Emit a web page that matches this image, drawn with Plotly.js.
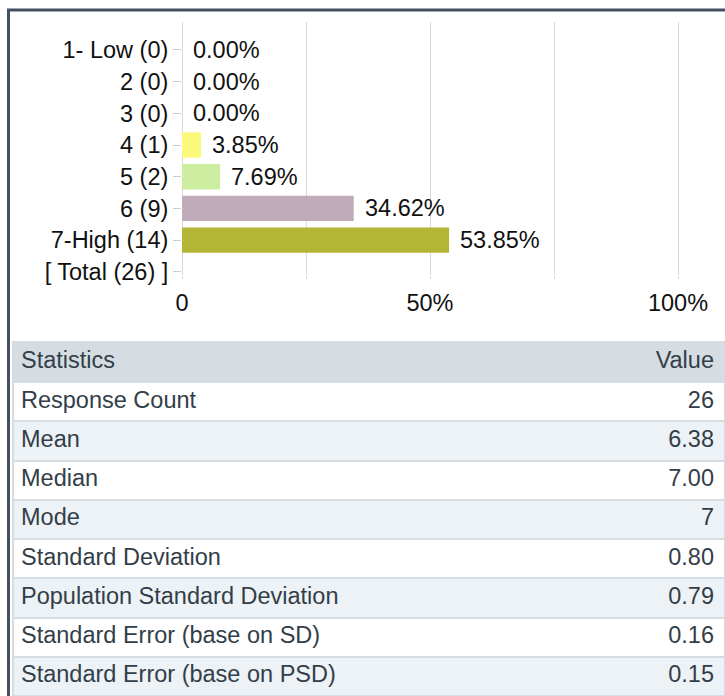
<!DOCTYPE html>
<html>
<head>
<meta charset="utf-8">
<script src="https://cdn.plot.ly/plotly-3.0.1.min.js"></script>
<style>
html,body{margin:0;padding:0;background:#fff;}
#chart{width:725px;height:696px;}
</style>
</head>
<body>
<div id="chart"></div>
<script>
// ---- data ----
var categories = ['1- Low (0)', '2 (0)', '3 (0)', '4 (1)', '5 (2)', '6 (9)', '7-High (14)', '[ Total (26) ]'];
var percents = [0.00, 0.00, 0.00, 3.85, 7.69, 34.62, 53.85, null];
var barColors = ['#fbf97a', '#fbf97a', '#fbf97a', '#fbf97a', '#cdeda1', '#c1aab9', '#b4b435', '#ffffff'];
var xTickVals = [0, 25, 50, 75, 100];
var xTickText = ['0', '', '50%', '', '100%'];

var statLabels = ['Response Count', 'Mean', 'Median', 'Mode', 'Standard Deviation',
  'Population Standard Deviation', 'Standard Error (base on SD)', 'Standard Error (base on PSD)'];
var statValues = ['26', '6.38', '7.00', '7', '0.80', '0.79', '0.16', '0.15'];
var statHeader = ['Statistics', 'Value'];

// ---- styling ----
var W = 725, H = 696;
var FONT = 'Liberation Sans, Arial, sans-serif';
var FS = 23.5;
var txtColor = '#333e48';
var rowFill = statLabels.map(function (_, i) { return i % 2 === 0 ? '#ffffff' : '#edf2f6'; });

var bar = {
  type: 'bar',
  orientation: 'h',
  x: percents,
  y: categories,
  width: 0.8,
  marker: { color: barColors },
  hoverinfo: 'none',
  xaxis: 'x', yaxis: 'y'
};

var tableLabels = {
  type: 'table',
  domain: { x: [13 / W, 1], y: [0, 1 - 342 / H] },
  columnwidth: [1],
  header: {
    values: [[statHeader[0]]],
    align: 'left',
    height: 40,
    fill: { color: '#d5dde2' },
    line: { color: '#d5dde2', width: 2 },
    font: { family: FONT, size: FS, color: txtColor }
  },
  cells: {
    values: [statLabels],
    align: 'left',
    height: 39.25,
    fill: { color: [rowFill] },
    line: { color: '#d5dde2', width: 2 },
    font: { family: FONT, size: FS, color: txtColor }
  }
};

var tableValues = {
  type: 'table',
  domain: { x: [13 / W, 1 - 3 / W], y: [0, 1 - 342 / H] },
  columnwidth: [1],
  header: {
    values: [[statHeader[1]]],
    align: 'right',
    height: 40,
    fill: { color: 'rgba(0,0,0,0)' },
    line: { color: 'rgba(0,0,0,0)', width: 0 },
    font: { family: FONT, size: FS, color: txtColor }
  },
  cells: {
    values: [statValues],
    align: 'right',
    height: 39.25,
    fill: { color: 'rgba(0,0,0,0)' },
    line: { color: 'rgba(0,0,0,0)', width: 0 },
    font: { family: FONT, size: FS, color: txtColor }
  }
};

var annotations = [];
categories.forEach(function (c, i) {
  if (percents[i] === null) return;
  annotations.push({
    x: percents[i], y: c, xref: 'x', yref: 'y',
    text: percents[i].toFixed(2) + '%',
    showarrow: false, xanchor: 'left', yanchor: 'middle', xshift: 9,
    font: { family: FONT, size: FS, color: '#111111' }
  });
});

// x range extends slightly past 100 so the 100% gridline is drawn; 100 sits at 678px
var xMax = 101;
var xRight = 182 + 496 * xMax / 100;

var layout = {
  width: W, height: H,
  margin: { l: 0, r: 0, t: 0, b: 0, pad: 0 },
  paper_bgcolor: '#ffffff',
  plot_bgcolor: '#ffffff',
  showlegend: false,
  font: { family: FONT, size: FS, color: '#111111' },
  xaxis: {
    domain: [182 / W, xRight / W],
    range: [0, xMax],
    tickmode: 'array',
    tickvals: xTickVals,
    ticktext: xTickText,
    showgrid: true, gridcolor: '#d9d9d9', gridwidth: 1,
    zeroline: true, zerolinecolor: '#d9d9d9', zerolinewidth: 1,
    showline: false,
    ticks: 'outside', ticklen: 3, tickcolor: '#d9d9d9',
    ticklabelstandoff: 4,
    tickfont: { family: FONT, size: FS, color: '#111111' },
    fixedrange: true
  },
  yaxis: {
    domain: [1 - 275 / H, 1 - 22 / H],
    type: 'category',
    categoryorder: 'array',
    categoryarray: categories,
    range: [7.1, -0.88],
    showgrid: false, zeroline: false, showline: false,
    ticks: 'outside', ticklen: 8, tickcolor: '#cccccc',
    tickfont: { family: FONT, size: FS, color: '#111111' },
    fixedrange: true
  },
  annotations: annotations,
  shapes: [
    { type: 'line', xref: 'paper', yref: 'paper', x0: 8.5 / W, x1: 8.5 / W, y0: 1 - 9 / H, y1: 0,
      line: { color: '#43505f', width: 3 } },
    { type: 'line', xref: 'paper', yref: 'paper', x0: 7 / W, x1: 1, y0: 1 - 10 / H, y1: 1 - 10 / H,
      line: { color: '#43505f', width: 3 } }
  ]
};

Plotly.newPlot('chart', [bar, tableLabels, tableValues], layout, { displayModeBar: false, staticPlot: true });
</script>
</body>
</html>
